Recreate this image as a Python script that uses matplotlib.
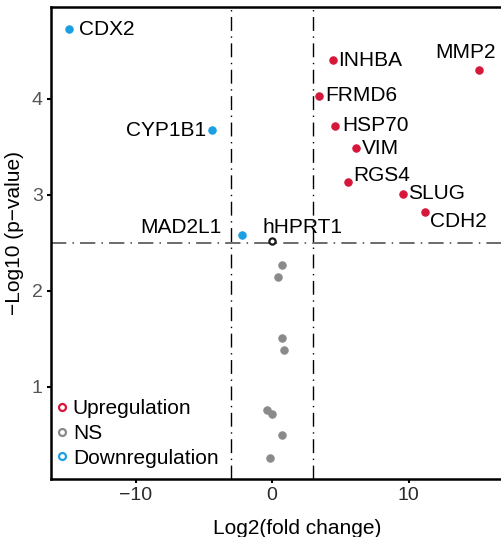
import matplotlib
matplotlib.use("Agg")
import matplotlib.pyplot as plt
from matplotlib.lines import Line2D

plt.rcParams["font.family"] = ["Liberation Sans", "DejaVu Sans"]

# labelled genes
genes = ["CDX2", "CYP1B1", "MAD2L1", "hHPRT1", "INHBA", "MMP2", "FRMD6",
         "HSP70", "VIM", "RGS4", "SLUG", "CDH2"]
gene_fc = [-14.87, -4.37, -2.22, 0.02, 4.47, 15.19, 3.44, 4.62, 6.13, 5.54, 9.62, 11.18]
gene_p = [4.72, 3.67, 2.585, 2.515, 4.40, 4.30, 4.03, 3.71, 3.49, 3.13, 3.01, 2.82]
gene_group = ["down", "down", "down", "ref", "up", "up", "up", "up", "up", "up", "up", "up"]

# unlabelled, not significant
ns_fc = [0.76, 0.42, 0.71, 0.88, -0.34, 0.0, 0.71, -0.15]
ns_p = [2.27, 2.14, 1.51, 1.38, 0.76, 0.72, 0.50, 0.26]

fc_cut = 3
p_cut = 2.5

colors = {"up": "#d6173a", "down": "#1a9fe3", "ns": "#8a8a8a", "ref": "#1a1a1a"}

# label offsets (pixels) and alignment
label_off = {
    "CDX2": (10, 0, "left"), "CYP1B1": (-6, 0, "right"),
    "MAD2L1": (-20, 7, "right"), "hHPRT1": (-10, 14, "left"),
    "INHBA": (5, 0, "left"), "MMP2": (-14, 17, "center"),
    "FRMD6": (6, 0, "left"), "HSP70": (7, 1, "left"),
    "VIM": (6, -1, "left"), "RGS4": (6, 7, "left"),
    "SLUG": (5, 0, "left"), "CDH2": (5, -10, "left"),
}

fig = plt.figure(figsize=(5.01, 5.37), dpi=100)
ax = fig.add_axes([51 / 501, 58 / 537, 0.918, 471.7 / 537])

ax.axvline(-fc_cut, color="black", lw=1, linestyle=(0, (10, 4, 1, 4)))
ax.axvline(fc_cut, color="black", lw=1, linestyle=(0, (10, 4, 1, 4)))
ax.axhline(p_cut, color="#444444", lw=1.1, linestyle=(0, (10, 4, 1, 4)))

ax.scatter(ns_fc, ns_p, s=28, color=colors["ns"], edgecolors=colors["ns"],
           linewidths=0.8, zorder=3)
for g, x, y, grp in zip(genes, gene_fc, gene_p, gene_group):
    if grp == "ref":
        ax.scatter([x], [y], s=20, facecolors="white", edgecolors=colors[grp],
                   linewidths=1.6, zorder=3)
    else:
        ax.scatter([x], [y], s=28, color=colors[grp], edgecolors=colors[grp],
                   linewidths=0.8, zorder=3)
    dx, dy, ha = label_off[g]
    ax.annotate(g, (x, y), xytext=(dx, dy), textcoords="offset pixels",
                ha=ha, va="center", fontsize=15, color="black")

ax.set_xlim(-16.19, 17.5)
ax.set_ylim(0.04, 4.95)
ax.set_xticks([-10, 0, 10])
ax.set_xticklabels(["\u221210", "0", "10"])
ax.set_yticks([1, 2, 3, 4])

for s in ["left", "bottom", "top"]:
    ax.spines[s].set_linewidth(1.8)
ax.spines["right"].set_visible(False)
ax.tick_params(axis="both", length=3, width=1.5, labelsize=14, pad=3)
ax.tick_params(axis="x", labelcolor="#2a2a2a")
ax.tick_params(axis="y", labelcolor="#555555")

fig.text(297.6 / 501, 1 - 529 / 537, "Log2(fold change)", ha="center",
         va="center", fontsize=15)
fig.text(15 / 501, 1 - 233 / 537, "\u2212Log10 (p\u2212value)", ha="center",
         va="center", rotation=90, fontsize=15)

handles = [
    Line2D([], [], marker="o", ls="", markersize=5, markerfacecolor="white",
           markeredgecolor=colors["up"], markeredgewidth=1.6, label="Upregulation"),
    Line2D([], [], marker="o", ls="", markersize=5, markerfacecolor="white",
           markeredgecolor=colors["ns"], markeredgewidth=1.6, label="NS"),
    Line2D([], [], marker="o", ls="", markersize=5, markerfacecolor="white",
           markeredgecolor=colors["down"], markeredgewidth=1.6, label="Downregulation"),
]
ax.legend(handles=handles, loc="lower left", bbox_to_anchor=(0.0, 0.013),
          frameon=False, fontsize=15, handlelength=0.6, handletextpad=0.2,
          labelspacing=0.27, borderaxespad=0.15, borderpad=0.1)

fig.savefig("out.png", dpi=100)
